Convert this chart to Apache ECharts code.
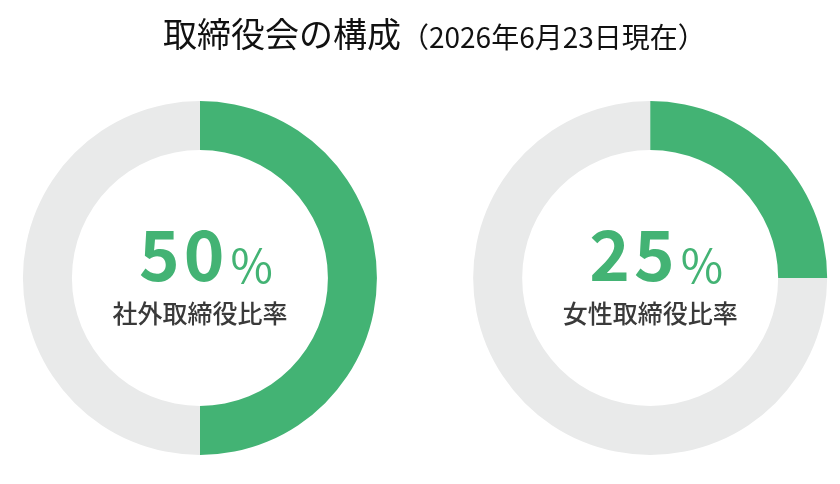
<!DOCTYPE html>
<html>
<head>
<meta charset="utf-8">
<script src="https://cdn.jsdelivr.net/npm/echarts@6/dist/echarts.min.js"></script>
<style>
  html, body { margin: 0; padding: 0; background: #fff; }
  #main { width: 840px; height: 484px; }
</style>
</head>
<body>
<div id="main"></div>
<script>
// chart data
var titleText = '取締役会の構成';
var dateText = '（2026年6月23日現在）';
var ratioNames = ['社外取締役比率', '女性取締役比率'];
var ratioValues = [50, 25];
var centersX = ['23.8%', '77.4%'];

var green = '#43b374';
var gray = '#e9eaea';
var font = '"Noto Sans CJK JP", "Noto Sans", sans-serif';

// digits are spaced apart, so each one gets its own rich token
// (the first one carries a bit of extra left padding, the number sits right of centre)
function centerText(v, name) {
    var digits = String(v).split('').map(function (d, k) {
        return '{' + (k === 0 ? 'lead' : 'num') + '|' + d + '}';
    }).join('');
    return digits + '{pct|%}\n{name|' + name + '}';
}

var numStyle = {fontFamily: font, fontSize: 69, fontWeight: 'bold', color: green,
                lineHeight: 58, verticalAlign: 'bottom', padding: [0, 2, 0, 2]};

function donut(i) {
    var v = ratioValues[i];
    return {
        type: 'pie',
        center: [centersX[i], 278],
        radius: [128, 177],
        startAngle: 90,
        clockwise: true,
        silent: true,
        avoidLabelOverlap: false,
        labelLine: {show: false},
        label: {show: false},
        data: [
            {
                value: v,
                name: ratioNames[i],
                itemStyle: {color: green},
                label: {
                    show: true,
                    position: 'center',
                    formatter: centerText(v, ratioNames[i]),
                    rich: {
                        lead: Object.assign({}, numStyle, {padding: [0, 2, 0, 12]}),
                        num: numStyle,
                        pct: {fontFamily: font, fontSize: 46, color: green,
                              lineHeight: 58, verticalAlign: 'bottom', padding: [0, 0, 0, 4]},
                        name: {fontFamily: font, fontSize: 25, fontWeight: 500, color: '#3a3a3a',
                               lineHeight: 36, padding: [12, 0, 0, 0]}
                    }
                }
            },
            {
                value: 100 - v,
                name: 'その他',
                itemStyle: {color: gray}
            }
        ]
    };
}

var chart = echarts.init(document.getElementById('main'));
chart.setOption({
    animation: false,
    title: {
        left: 158,
        top: 12,
        text: '{a|' + titleText + '}{b|' + dateText + '}',
        textStyle: {
            rich: {
                a: {fontFamily: font, fontSize: 34, fontWeight: 'normal', color: '#111', verticalAlign: 'bottom'},
                b: {fontFamily: font, fontSize: 28, fontWeight: 'normal', color: '#111', verticalAlign: 'bottom'}
            }
        }
    },
    series: [donut(0), donut(1)]
});
</script>
</body>
</html>
